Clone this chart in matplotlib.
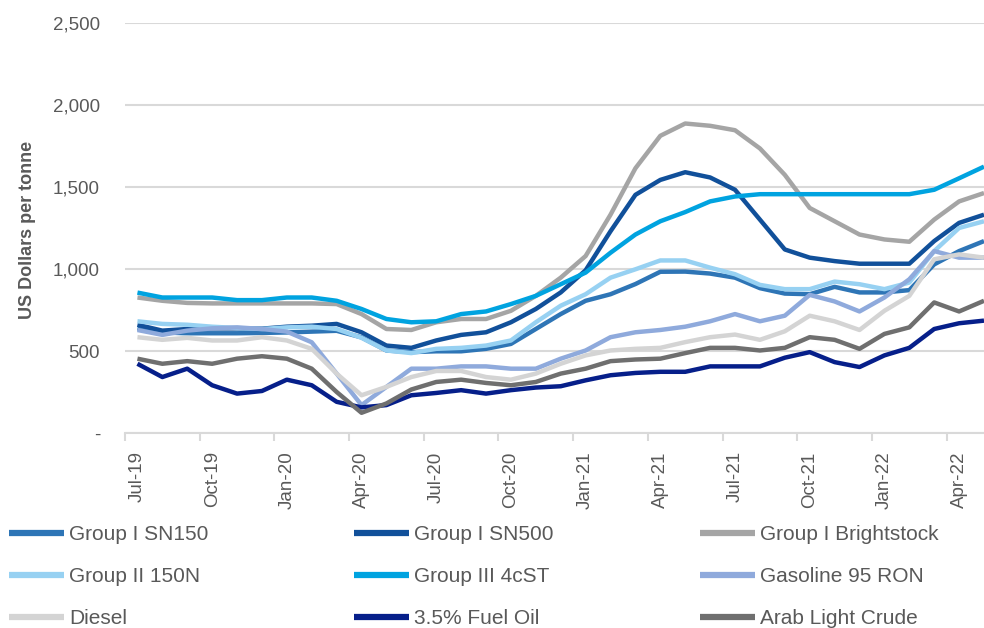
import matplotlib
matplotlib.use("Agg")
import matplotlib.pyplot as plt
from matplotlib.ticker import FixedLocator

months = ["Jul-19", "Aug-19", "Sep-19", "Oct-19", "Nov-19", "Dec-19",
          "Jan-20", "Feb-20", "Mar-20", "Apr-20", "May-20", "Jun-20",
          "Jul-20", "Aug-20", "Sep-20", "Oct-20", "Nov-20", "Dec-20",
          "Jan-21", "Feb-21", "Mar-21", "Apr-21", "May-21", "Jun-21",
          "Jul-21", "Aug-21", "Sep-21", "Oct-21", "Nov-21", "Dec-21",
          "Jan-22", "Feb-22", "Mar-22", "Apr-22", "May-22"]

sn150 = [640, 615, 610, 610, 610, 612, 615, 620, 625, 585, 505, 495, 500, 500, 515, 545, 636, 727,
         808, 848, 910, 985, 986, 974, 949, 885, 852, 848, 893, 859, 859, 873, 1030, 1111, 1172]
sn500 = [662, 626, 636, 640, 640, 638, 650, 656, 667, 616, 535, 521, 566, 600, 616, 677, 758, 859,
         994, 1232, 1454, 1545, 1592, 1560, 1485, 1303, 1121, 1071, 1050, 1034, 1034, 1034, 1172, 1283, 1333]
brightstock = [828, 808, 795, 792, 792, 792, 792, 792, 788, 727, 636, 630, 677, 697, 697, 747, 838, 949,
               1081, 1333, 1616, 1814, 1889, 1875, 1848, 1737, 1576, 1374, 1293, 1212, 1182, 1168, 1303, 1414, 1465]
g2_150n = [683, 667, 662, 650, 642, 636, 646, 650, 636, 582, 505, 489, 515, 521, 535, 566, 677, 778,
           848, 949, 1000, 1054, 1054, 1010, 970, 905, 879, 879, 925, 909, 879, 919, 1111, 1252, 1293]
g3_4cst = [858, 828, 828, 828, 812, 812, 828, 828, 808, 758, 697, 677, 683, 727, 743, 788, 838, 909,
           980, 1101, 1212, 1293, 1349, 1414, 1444, 1458, 1458, 1458, 1458, 1458, 1458, 1458, 1485, 1555, 1626]
gasoline = [630, 600, 626, 640, 646, 636, 620, 555, 364, 172, 283, 394, 394, 408, 408, 394, 394, 455,
            505, 586, 616, 630, 650, 683, 727, 683, 717, 844, 804, 743, 828, 939, 1111, 1071, 1071]
diesel = [586, 570, 582, 566, 566, 586, 566, 515, 364, 232, 283, 343, 380, 380, 343, 327, 364, 424,
          475, 505, 515, 521, 556, 586, 602, 570, 622, 717, 683, 630, 747, 838, 1061, 1091, 1071]
fuel_oil = [424, 343, 394, 293, 242, 258, 327, 293, 192, 158, 172, 232, 246, 263, 242, 263, 279, 287,
            323, 354, 368, 375, 375, 408, 408, 408, 461, 495, 434, 404, 475, 521, 636, 671, 687]
arab_light = [455, 424, 440, 424, 455, 470, 455, 394, 252, 125, 182, 267, 313, 327, 307, 293, 313, 364,
              394, 440, 450, 455, 489, 521, 521, 505, 521, 586, 570, 515, 606, 646, 798, 743, 808]

series_names = ["Group I SN150", "Group I SN500", "Group I Brightstock",
                "Group II 150N", "Group III 4cST", "Gasoline 95 RON",
                "Diesel", "3.5% Fuel Oil", "Arab Light Crude"]
series_values = [sn150, sn500, brightstock, g2_150n, g3_4cst, gasoline, diesel, fuel_oil, arab_light]
series_colors = ["#2E75B6", "#11509A", "#A5A5A5",
                 "#97D1F2", "#00A3E0", "#8FAADC",
                 "#D4D4D4", "#061F8A", "#6F6F6F"]

y_ticks = [0, 500, 1000, 1500, 2000, 2500]
y_tick_labels = ["-", "500", "1,000", "1,500", "2,000", "2,500"]

FONT = "Liberation Sans"
TEXT_COLOR = "#595959"
GRID_COLOR = "#D9D9D9"

fig = plt.figure(figsize=(9.84, 6.28), dpi=100)
ax = fig.add_axes([125 / 984, 1 - 433.3 / 628, 1 - 125 / 984, (433.3 - 23.3) / 628])

x = list(range(len(months)))
handles = {}
for name, vals, col in zip(series_names, series_values, series_colors):
    (ln,) = ax.plot(x, vals, color=col, lw=3.2, solid_joinstyle="round", solid_capstyle="butt", label=name)
    handles[name] = ln

ax.set_xlim(-0.5, len(months) - 1)
ax.set_ylim(0, 2500)

ax.set_yticks(y_ticks)
ax.set_yticklabels(y_tick_labels, fontfamily=FONT, fontsize=13.5, color=TEXT_COLOR)
ax.tick_params(axis="y", length=0, pad=18)

major_pos = x[::3]
ax.set_xticks(major_pos)
ax.set_xticklabels([months[i] for i in major_pos], rotation=90, fontfamily=FONT,
                   fontsize=13.5, color=TEXT_COLOR)
ax.tick_params(axis="x", which="major", length=0, pad=13)
ax.xaxis.set_minor_locator(FixedLocator([p - 0.5 for p in major_pos]))
ax.tick_params(axis="x", which="minor", length=6, width=1.5, color=GRID_COLOR)

ax.grid(axis="y", color=GRID_COLOR, lw=1.5)
ax.set_axisbelow(True)
for s in ["top", "right", "left"]:
    ax.spines[s].set_visible(False)
ax.spines["bottom"].set_color(GRID_COLOR)
ax.spines["bottom"].set_linewidth(1.5)

fig.text(28 / 984, 1 - 230 / 628, "US Dollars per tonne", rotation=90, ha="center", va="center",
         fontfamily=FONT, fontsize=13, fontweight="bold", color=TEXT_COLOR)

order = ["Group I SN150", "Group II 150N", "Diesel",
         "Group I SN500", "Group III 4cST", "3.5% Fuel Oil",
         "Group I Brightstock", "Gasoline 95 RON", "Arab Light Crude"]
leg = fig.legend([handles[n] for n in order], order, loc="upper left",
                 bbox_to_anchor=(9 / 984, 1 - 525 / 628), ncol=3, frameon=False,
                 prop={"family": FONT, "size": 15}, handlelength=2.64, handletextpad=0.24,
                 labelspacing=1.1, columnspacing=7.0, borderpad=0, borderaxespad=0)
for t in leg.get_texts():
    t.set_color(TEXT_COLOR)
for l in leg.get_lines():
    l.set_linewidth(4.5)

fig.savefig("out.png", dpi=100)
